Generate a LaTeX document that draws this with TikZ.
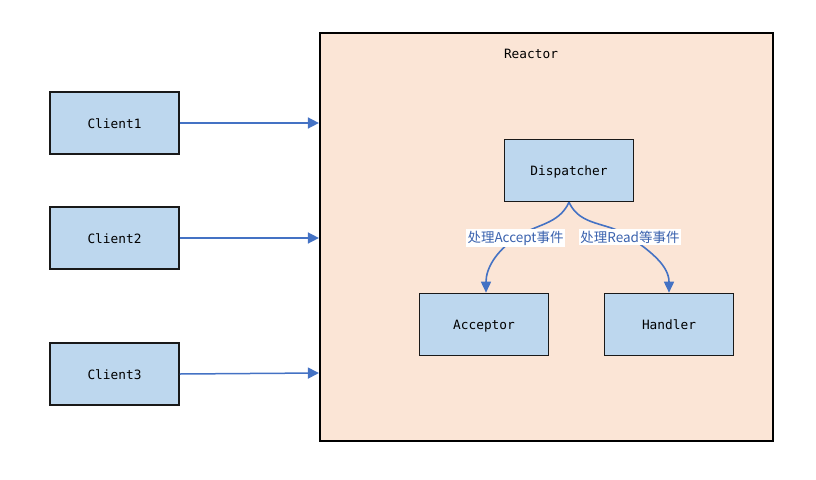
\documentclass[tikz,border=0pt]{standalone}
\usepackage{fontspec}
\setmonofont{DejaVu Sans Mono}
\newfontfamily\cjk{Noto Sans CJK SC}
\usetikzlibrary{arrows.meta}
\definecolor{boxblue}{HTML}{BDD7EE}
\definecolor{reactorfill}{HTML}{FBE5D6}
\definecolor{linkblue}{HTML}{4472C4}
\definecolor{labelblue}{HTML}{3A62AE}
\begin{document}
\begin{tikzpicture}[x=1pt,y=-1pt,
  compbox/.style={draw=black!90, line width=1.6pt, fill=boxblue, minimum width=129pt, minimum height=62pt, inner sep=0pt, text height=12pt, text depth=1.5pt, font=\ttfamily\fontsize{12.8}{14}\selectfont},
  link/.style={draw=linkblue, line width=1.5pt, -{Triangle[length=11pt,width=11pt]}},
  clink/.style={draw=linkblue, line width=1.6pt, -{Triangle[length=11pt,width=10pt]}},
  lbl/.style={fill=white, text=labelblue, inner sep=1.5pt, font=\cjk\fontsize{13.5}{15}\selectfont}
]
\useasboundingbox (0,0) rectangle (816,479);
\node[draw=black, line width=2.2pt, fill=reactorfill, minimum width=453pt, minimum height=408pt, inner sep=0pt] (reactor) at (546.5,237) {};
\node[font=\ttfamily\fontsize{12.8}{14}\selectfont, inner sep=0pt] (rtitle) at (531,54) {Reactor};
\node[compbox] (c1) at (114.5,123) {Client1};
\node[compbox] (c2) at (114.5,238) {Client2};
\node[compbox] (c3) at (114.5,374) {Client3};
\node[compbox] (disp) at (569,170.5) {Dispatcher};
\node[compbox] (acc) at (484,324.5) {Acceptor};
\node[compbox] (hand) at (669,324.5) {Handler};
\draw[link] (c1.east) -- (c1.east -| reactor.west);
\draw[link] (c2.east) -- (c2.east -| reactor.west);
\draw[link] (c3.east) -- ([yshift=1pt]c3.east -| reactor.west);
\coordinate (l1) at (515.5,238);
\coordinate (l2) at (630,237);
\draw[clink] (disp.south) to[out=-115,in=35] (l1) to[out=-145,in=90] (acc.north -| 486,0);
\draw[clink] (disp.south) to[out=-65,in=145] (l2) to[out=-35,in=90] (hand.north);
\node[lbl] (t1) at (l1) {处理Accept事件};
\node[lbl] (t2) at (l2) {处理Read等事件};
\end{tikzpicture}
\end{document}
